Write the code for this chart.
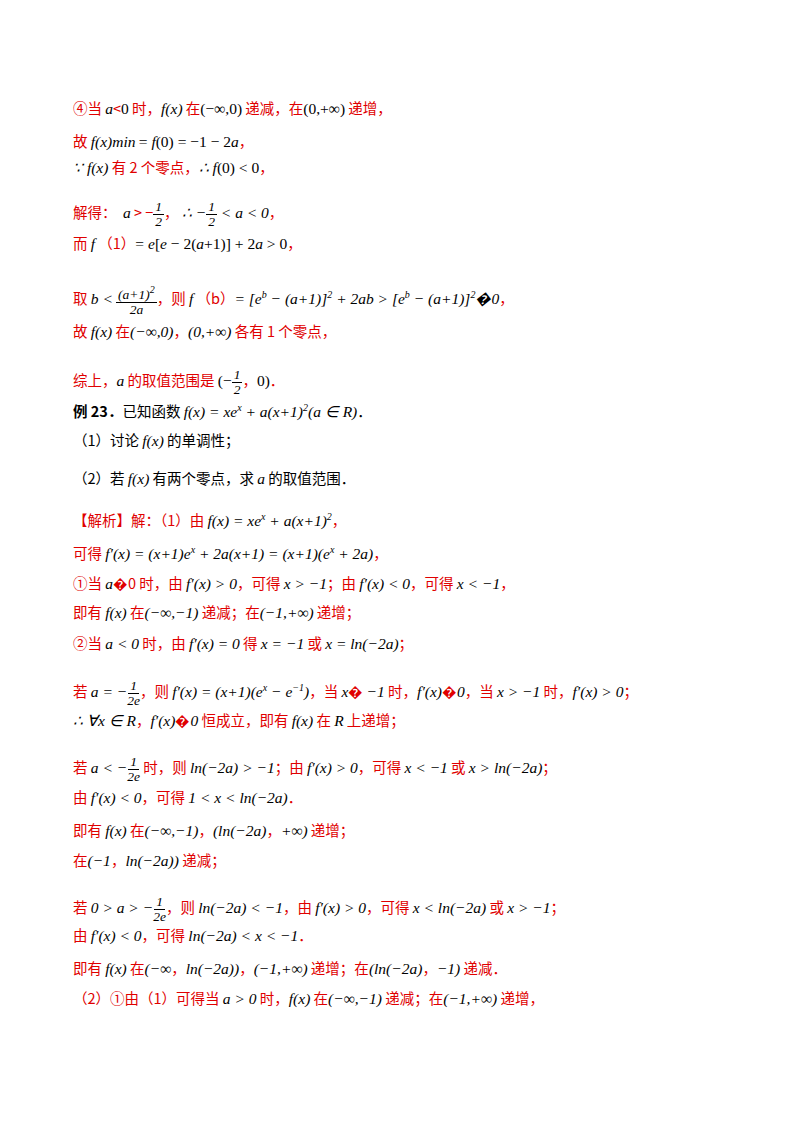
<!DOCTYPE html><html><head><meta charset="utf-8">
<script src="https://cdn.jsdelivr.net/npm/chart.js"></script>
<style>
body{margin:0;width:800px;height:1132px;background:#fff;position:relative;font-family:"Noto Sans CJK SC";font-size:14.5px;color:#e00000}
.l{position:absolute;left:73px;white-space:nowrap;line-height:20px}
m{font-family:"Liberation Serif";font-style:italic;color:#000;font-size:15.5px}
m i{font-style:normal}
.k{color:#000}
.f{display:inline-flex;flex-direction:column;align-items:center;vertical-align:middle;font-family:"Liberation Serif";font-style:italic;color:#000;font-size:13.5px;line-height:14px}
.f span:first-child{border-bottom:1px solid #000;padding:0 2px}
sup{font-size:10px}
</style></head><body>
<script>
const lines=[
[98,'④当 <m>a</m>&lt;<m><i>0</i></m> 时，<m>f(x)</m> 在<m><i>(−∞,0)</i></m> 递减，在<m><i>(0,+∞)</i></m> 递增，'],
[131,'故 <m>f(x)min</m> <m><i>=</i> f<i>(0) = −1 − 2</i>a</m>，'],
[157,'<m>∵ f(x)</m> 有 2 个零点，<m>∴ f<i>(0) &lt; 0</i></m>，'],
[200,'解得：&nbsp; <m>a</m> &gt; −<span class="f"><span>1</span><span>2</span></span>，&nbsp;<m>∴ −</m><span class="f"><span>1</span><span>2</span></span><m> &lt; a &lt; 0</m>，'],
[233,'而 <m>f</m> （1）<m><i>=</i> e<i>[</i>e<i> − 2(</i>a<i>+1)] + 2</i>a<i> &gt; 0</i></m>，'],
[283,'取 <m>b &lt;</m> <span class="f"><span>(a+1)<sup>2</sup></span><span>2a</span></span>，则 <m>f</m> （b）<m>= [e<sup>b</sup> − (a+1)]<sup>2</sup> + 2ab &gt; [e<sup>b</sup> − (a+1)]<sup>2</sup>�0</m>，'],
[321,'故 <m>f(x)</m> 在<m>(−∞,0)</m>，<m>(0,+∞)</m> 各有 1 个零点，'],
[368,'综上，<m>a</m> 的取值范围是 <m><i>(−</i></m><span class="f"><span>1</span><span>2</span></span>，<m><i>0)</i></m>．'],
[398,'<b class="k">例 23．</b><span class="k">已知函数 </span><m>f(x) = xe<sup>x</sup> + a(x+1)<sup>2</sup>(a ∈ R)</m><span class="k">．</span>'],
[430,'<span class="k">（1）讨论 </span><m>f(x)</m><span class="k"> 的单调性；</span>'],
[468,'<span class="k">（2）若 </span><m>f(x)</m><span class="k"> 有两个零点，求 </span><m>a</m><span class="k"> 的取值范围．</span>'],
[507,'【解析】解：（1）由 <m>f(x) = xe<sup>x</sup> + a(x+1)<sup>2</sup></m>，'],
[540,'可得 <m>f′(x) = (x+1)e<sup>x</sup> + 2a(x+1) = (x+1)(e<sup>x</sup> + 2a)</m>，'],
[573,'①当 <m>a</m>�0 时，由 <m>f′(x) &gt; 0</m>，可得 <m>x &gt; −1</m>；由 <m>f′(x) &lt; 0</m>，可得 <m>x &lt; −1</m>，'],
[602,'即有 <m>f(x)</m> 在<m>(−∞,−1)</m> 递减；在<m>(−1,+∞)</m> 递增；'],
[633,'②当 <m>a &lt; 0</m> 时，由 <m>f′(x) = 0</m> 得 <m>x = −1</m> 或 <m>x = ln(−2a)</m>；'],
[678,'若 <m>a = −</m><span class="f"><span>1</span><span>2e</span></span>，则 <m>f′(x) = (x+1)(e<sup>x</sup> − e<sup>−1</sup>)</m>，当 <m>x</m>� <m>−1</m> 时，<m>f′(x)</m>�<m>0</m>，当 <m>x &gt; −1</m> 时，<m>f′(x) &gt; 0</m>；'],
[710,'<m>∴ ∀x ∈ R</m>，<m>f′(x)</m>�<m>0</m> 恒成立，即有 <m>f(x)</m> 在 <m>R</m> 上递增；'],
[755,'若 <m>a &lt; −</m><span class="f"><span>1</span><span>2e</span></span> 时，则 <m>ln(−2a) &gt; −1</m>；由 <m>f′(x) &gt; 0</m>，可得 <m>x &lt; −1</m> 或 <m>x &gt; ln(−2a)</m>；'],
[787,'由 <m>f′(x) &lt; 0</m>，可得 <m>1 &lt; x &lt; ln(−2a)</m>．'],
[820,'即有 <m>f(x)</m> 在<m>(−∞,−1)</m>，<m>(ln(−2a)</m>，<m>+∞)</m> 递增；'],
[850,'在<m>(−1</m>，<m>ln(−2a))</m> 递减；'],
[895,'若 <m>0 &gt; a &gt; −</m><span class="f"><span>1</span><span>2e</span></span>，则 <m>ln(−2a) &lt; −1</m>，由 <m>f′(x) &gt; 0</m>，可得 <m>x &lt; ln(−2a)</m> 或 <m>x &gt; −1</m>；'],
[925,'由 <m>f′(x) &lt; 0</m>，可得 <m>ln(−2a) &lt; x &lt; −1</m>．'],
[958,'即有 <m>f(x)</m> 在<m>(−∞</m>，<m>ln(−2a))</m>，<m>(−1,+∞)</m> 递增；在<m>(ln(−2a)</m>，<m>−1)</m> 递减．'],
[988,'（2）①由（1）可得当 <m>a &gt; 0</m> 时，<m>f(x)</m> 在<m>(−∞,−1)</m> 递减；在<m>(−1,+∞)</m> 递增，']
];
for(const [y,h] of lines){const d=document.createElement('div');d.className='l';d.style.top=y+'px';d.innerHTML=h;document.body.appendChild(d);}
</script>
</body></html>
